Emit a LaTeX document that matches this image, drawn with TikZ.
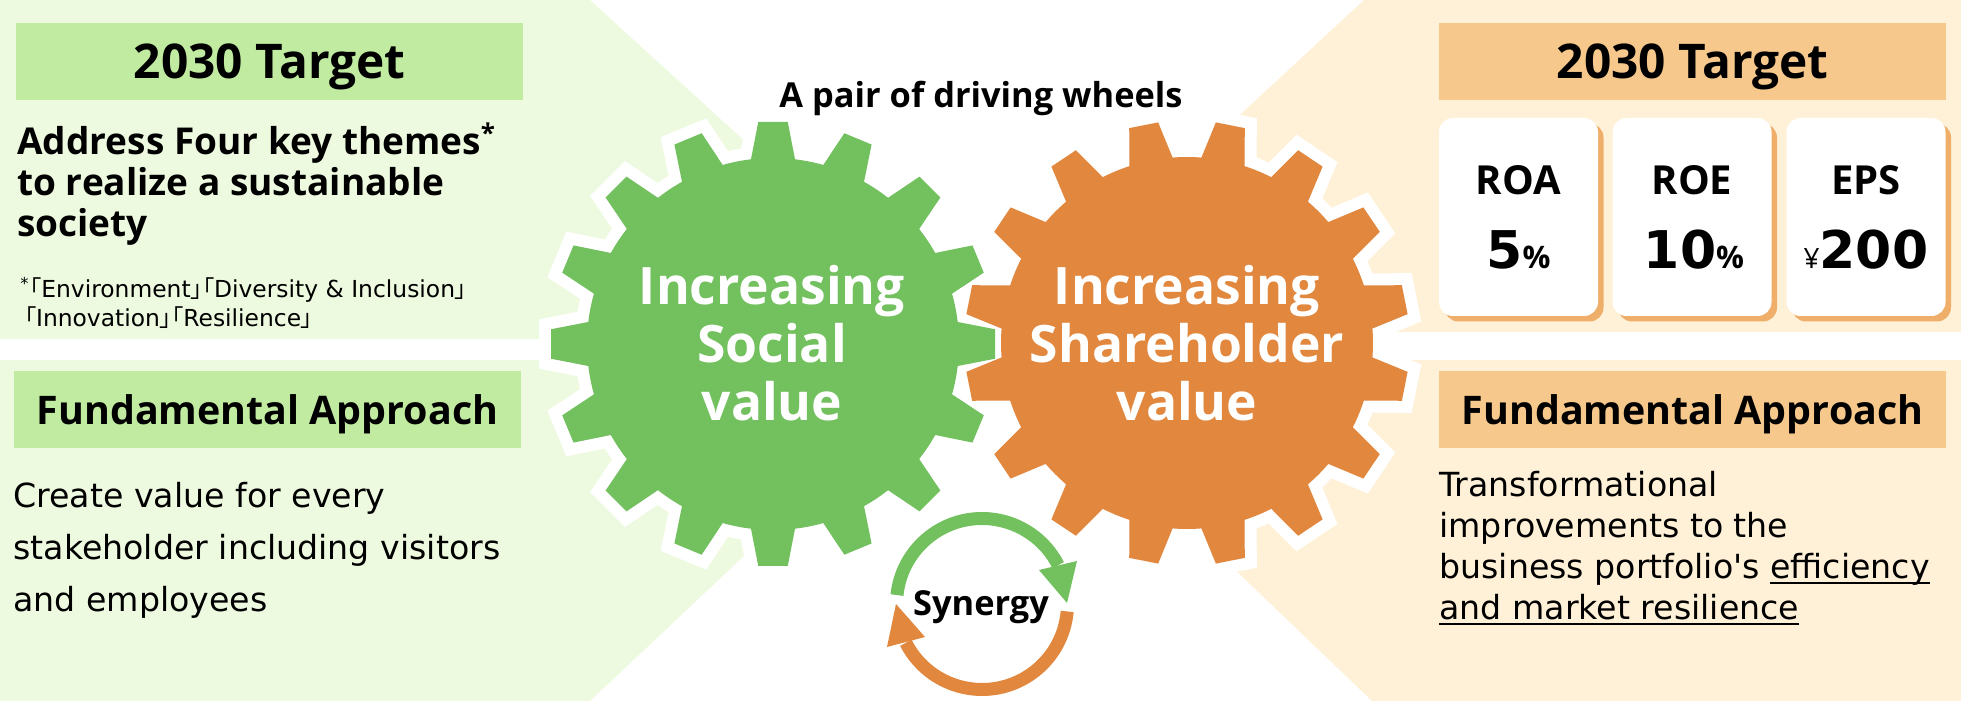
\documentclass[tikz,border=0pt]{standalone}
\usepackage{fontspec}
\setmainfont{DejaVu Sans}
\newfontfamily\headfont{Open Sans}
\newfontfamily\cjkfont[RawFeature=+palt]{Noto Sans CJK JP}
\newsavebox{\ulinebox}
\newcommand{\ulinetext}[1]{\sbox{\ulinebox}{#1}\rlap{\rule[-2.5pt]{\wd\ulinebox}{0.9pt}}\usebox{\ulinebox}}
\definecolor{greengear}{HTML}{72C05E}
\definecolor{greenpanel}{HTML}{EEFAE0}
\definecolor{greenhead}{HTML}{C0EBA0}
\definecolor{orangegear}{HTML}{E1873E}
\definecolor{orangepanel}{HTML}{FEF1D7}
\definecolor{orangehead}{HTML}{F6C88B}
\definecolor{cardshadow}{HTML}{EFAE6A}
% one gear, 16 teeth, #1 is the angle of the first tooth
\newcommand{\gearpath}[1]{
    ({#1-6.8}:186)
    \foreach \a in {0,22.5,...,337.5}{
        -- ({#1+\a-3.8}:222.5) -- ({#1+\a+3.8}:222.5) -- ({#1+\a+6.8}:186)
        arc[start angle=#1+\a+6.8, end angle=#1+\a+15.7, radius=186]
    } -- cycle
}
\begin{document}
\begin{tikzpicture}[x=0.5pt, y=0.5pt,
    headbox/.style={minimum width=253.5pt, minimum height=38.5pt, inner sep=0pt},
    targethead/.style={headbox, font=\headfont\bfseries\fontsize{23.9}{27}\selectfont, text height=19pt, text depth=1.5pt},
    approachhead/.style={headbox, font=\headfont\bfseries\fontsize{19.7}{22}\selectfont, text height=17pt, text depth=1.5pt},
    card/.style={rounded corners=7pt, minimum width=79.5pt, minimum height=99pt, inner sep=0pt},
    cardname/.style={inner sep=0pt, anchor=base, font=\headfont\bfseries\fontsize{20}{24}\selectfont},
    cardvalue/.style={inner sep=0pt, anchor=base, font=\bfseries\fontsize{26}{32}\selectfont},
    valueunit/.style={font=\headfont\bfseries\fontsize{15.5}{18}\selectfont},
    halo/.style={draw=white, line width=12pt, miter limit=10},
    gearlabel/.style={inner sep=0pt, anchor=base, text=white, font=\headfont\bfseries\fontsize{25.8}{30}\selectfont},
    bodytext/.style={inner sep=0pt, anchor=base west, align=left, font=\fontsize{16.6}{20.5}\selectfont},
    boldtext/.style={inner sep=0pt, anchor=base west, align=left, font=\headfont\bfseries\fontsize{18.5}{20.5}\selectfont},
    notetext/.style={inner sep=0pt, anchor=base west, align=left, font=\fontsize{11.7}{14.5}\selectfont},
    centertext/.style={inner sep=0pt, anchor=base, font=\headfont\bfseries\fontsize{17.2}{20}\selectfont},
    synergyarc/.style={line width=6.5pt}
]
    \useasboundingbox (0,0) rectangle (1961,701);
    \fill[greenpanel] (0,362) -- (760,362) -- (760,546) -- (590,701) -- (0,701) -- cycle;
    \fill[greenpanel] (0,341) -- (760,341) -- (760,160) -- (590,0) -- (0,0) -- cycle;
    \fill[orangepanel] (1961,369) -- (1230,369) -- (1230,577) -- (1364,701) -- (1961,701) -- cycle;
    \fill[orangepanel] (1961,341) -- (1230,341) -- (1230,136) -- (1372,0) -- (1961,0) -- cycle;

    \path[halo, shift={(773,357)}] \gearpath{0};
    \path[halo, shift={(1187,358)}] \gearpath{11.25};
    \fill[greengear, shift={(773,357)}] \gearpath{0};
    \fill[orangegear, shift={(1187,358)}] \gearpath{11.25};

    \node[gearlabel] (socialA) at (772,396) {Increasing};
    \node[gearlabel] (socialB) at (772,338) {Social};
    \node[gearlabel] (socialC) at (772,280) {value};
    \node[gearlabel] (shareA) at (1187,396) {Increasing};
    \node[gearlabel] (shareB) at (1187,338) {Shareholder};
    \node[gearlabel] (shareC) at (1187,280) {value};

    \node[targethead, fill=greenhead] (targetL) at (269.5,639.5) {2030 Target};
    \node[approachhead, fill=greenhead] (approachL) at (267.5,291.5) {Fundamental Approach};
    \node[targethead, fill=orangehead] (targetR) at (1692.5,639.5) {2030 Target};
    \node[approachhead, fill=orangehead] (approachR) at (1692.5,291.5) {Fundamental Approach};

    \node[boldtext] (themes) at (17,464) {Address Four key themes\textsuperscript{*}\\to realize a sustainable\\society};
    \node[notetext] (note) at (20,374) {\textsuperscript{*}{\cjkfont 「}Environment{\cjkfont 」「}Diversity \& Inclusion{\cjkfont 」}\\\hspace{2pt}{\cjkfont 「}Innovation{\cjkfont 」「}Resilience{\cjkfont 」}};
    \node[bodytext, font=\fontsize{16.6}{26}\selectfont] (createtext) at (13,89) {Create value for every\\stakeholder including visitors\\and employees};
    \node[bodytext] (transform) at (1439,81) {Transformational\\improvements to the\\business portfolio\textquotesingle s \ulinetext{efficiency}\\\ulinetext{and market resilience}};

    \fill[cardshadow, rounded corners=7pt] (1444.5,379.5) rectangle (1603.5,577.5);
    \fill[cardshadow, rounded corners=7pt] (1618,379.5) rectangle (1777,577.5);
    \fill[cardshadow, rounded corners=7pt] (1792,379.5) rectangle (1951,577.5);
    \node[card, fill=white] (roa) at (1518.5,484) {};
    \node[card, fill=white] (roe) at (1692,484) {};
    \node[card, fill=white] (eps) at (1866,484) {};
    \node[cardname] (roaname) at (1518.5,506) {ROA};
    \node[cardname] (roename) at (1692,506) {ROE};
    \node[cardname] (epsname) at (1866,506) {EPS};
    \node[cardvalue] (roavalue) at (1518.5,432) {5{\headfont\fontsize{15.5}{18}\selectfont\%}};
    \node[cardvalue] (roevalue) at (1694,432) {10{\headfont\fontsize{15.5}{18}\selectfont\%}};
    \node[cardvalue] (epsvalue) at (1866,432) {{\headfont\fontsize{14}{18}\selectfont\mdseries ¥}200};

    \node[centertext] (wheels) at (981,593) {A pair of driving wheels};
    \node[centertext] (synergy) at (981,85) {Synergy};

    \draw[greengear, synergyarc] (982,97) ++(174:85.5) arc[start angle=174, end angle=27, radius=85.5];
    \fill[greengear] (1039,131) -- (1077,140) -- (1067,98) -- cycle;
    \draw[orangegear, synergyarc] (982,97) ++(-5:85.5) arc[start angle=-5, end angle=-153, radius=85.5];
    \fill[orangegear] (887,54) -- (925,64) -- (896,97) -- cycle;
\end{tikzpicture}
\end{document}
